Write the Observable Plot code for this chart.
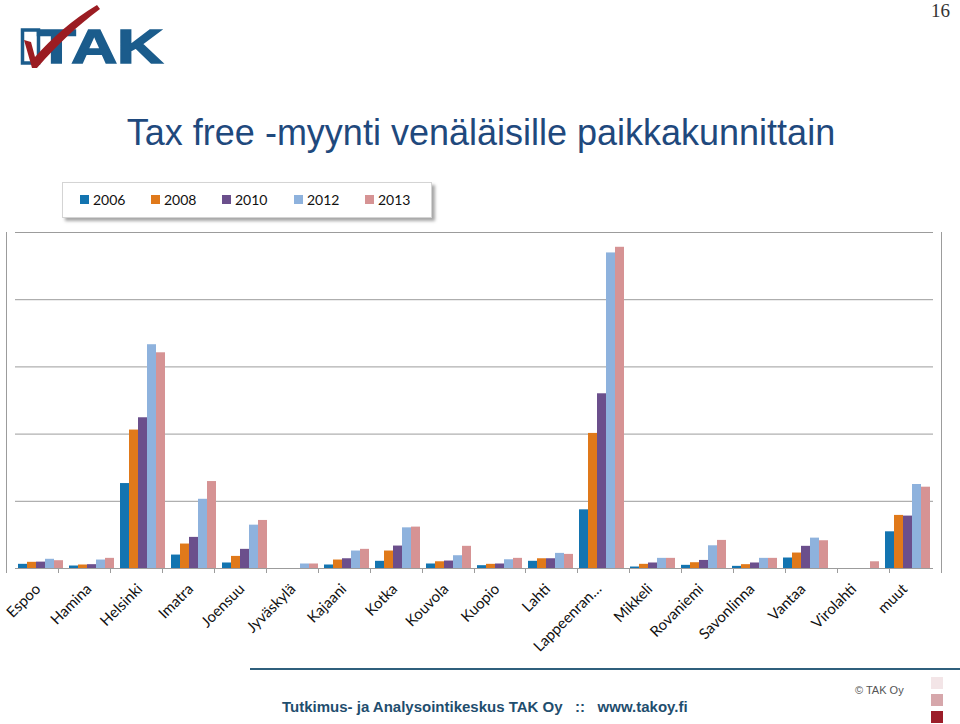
<!DOCTYPE html>
<html>
<head>
<meta charset="utf-8">
<script src="https://cdn.jsdelivr.net/npm/d3@7"></script>
<script src="https://cdn.jsdelivr.net/npm/@observablehq/plot@0.6"></script>
<style>
  html, body { margin: 0; padding: 0; background: #fff; }
  #page { position: relative; width: 960px; height: 724px; overflow: hidden; background: #fff; }
  #pagenum { position: absolute; right: 10px; top: 0px; font-family: "Liberation Serif", serif; font-size: 19px; color: #333; }
  #logo { position: absolute; left: 0; top: 0; }
  #title { position: absolute; left: 0; width: 962px; top: 112px; text-align: center; font-family: "Liberation Sans", Arial, sans-serif; font-size: 36px; color: #1F497D; white-space: nowrap; }
  #legend { position: absolute; left: 62px; top: 182px; width: 368px; height: 34px; background: #fff; border: 1px solid #d4d4d4; box-shadow: 3px 3px 3px rgba(0,0,0,0.35); font-family: Lato, "Open Sans", sans-serif; font-size: 14px; color: #111; }
  .li { position: absolute; top: 8px; display: flex; align-items: center; }
  .sw { width: 9px; height: 9px; margin-right: 4px; }
  #chart { position: absolute; left: 0; top: 220px; }
  #footline { position: absolute; left: 250px; top: 668px; width: 710px; height: 2px; background: #2F5F7C; }
  #foot { position: absolute; left: 282px; top: 698px; font-family: "Liberation Sans", Arial, sans-serif; font-weight: bold; font-size: 15px; color: #1F4E6E; white-space: pre; }
  #copy { position: absolute; left: 855px; top: 684px; font-family: "Liberation Sans", Arial, sans-serif; font-size: 11px; color: #555; }
  .sq { position: absolute; left: 931px; width: 12px; height: 12px; }
</style>
</head>
<body>
<div id="page">
  <div id="pagenum">16</div>
  <svg id="logo" width="180" height="75">
    <rect x="22.5" y="30" width="16" height="33" fill="none" stroke="#1B5C8C" stroke-width="3.5"></rect>
    <text x="37" y="63" font-family="Liberation Sans, Arial" font-weight="bold" font-size="48" fill="#1B5C8C" stroke="#1B5C8C" stroke-width="1.5" textLength="126" lengthAdjust="spacingAndGlyphs">TAK</text>
    <path d="M24,40 L31,42 L35,57 C52,38 72,20 97,5 L100,9 C77,26 57,45 37,68 L32,68 Z" fill="#9B1C22"></path>
  </svg>
  <div id="title">Tax free -myynti venäläisille paikkakunnittain</div>
  <div id="legend"></div>
  <div id="chart"></div>
  <div id="footline"></div>
  <div id="foot">Tutkimus- ja Analysointikeskus TAK Oy   ::   www.takoy.fi</div>
  <div id="copy">© TAK Oy</div>
  <div class="sq" style="top:677px;background:#F3E5E7"></div>
  <div class="sq" style="top:694px;background:#D6A7AB"></div>
  <div class="sq" style="top:711px;background:#9C1D29"></div>
</div>
<script>
const categories = ["Espoo","Hamina","Helsinki","Imatra","Joensuu","Jyväskylä","Kajaani","Kotka","Kouvola","Kuopio","Lahti","Lappeenran…","Mikkeli","Rovaniemi","Savonlinna","Vantaa","Virolahti","muut"];
const series = ["2006","2008","2010","2012","2013"];
const colors = ["#1374B0","#E0791A","#6B4F8C","#8EB2DD","#D69394"];
const v2006 = [0.062,0.037,1.264,0.200,0.082,null,0.052,0.107,0.067,0.042,0.107,0.873,0.022,0.047,0.032,0.156,null,0.546];
const v2008 = [0.092,0.052,2.060,0.364,0.180,null,0.126,0.260,0.100,0.062,0.145,2.010,0.062,0.086,0.057,0.230,null,0.790];
const v2010 = [0.095,0.057,2.243,0.463,0.285,null,0.145,0.334,0.111,0.067,0.145,2.600,0.082,0.120,0.082,0.330,null,0.780];
const v2012 = [0.137,0.126,3.330,1.030,0.645,0.067,0.260,0.605,0.190,0.130,0.225,4.696,0.151,0.338,0.151,0.452,null,1.250];
const v2013 = [0.116,0.151,3.210,1.294,0.715,0.067,0.285,0.616,0.330,0.151,0.210,4.780,0.151,0.418,0.151,0.413,0.100,1.210];
const gridValues = [0, 1, 2, 3, 4, 5];

const valueArrays = [v2006, v2008, v2010, v2012, v2013];
const rows = [];
categories.forEach((c, i) => {
  series.forEach((s, j) => {
    const v = valueArrays[j][i];
    if (v != null) rows.push({city: c, year: s, value: v});
  });
});

// legend
const legend = document.getElementById("legend");
const legendX = [17, 88, 159, 231, 302];
series.forEach((s, j) => {
  const d = document.createElement("div");
  d.className = "li";
  d.style.left = legendX[j] + "px";
  d.innerHTML = `<div class="sw" style="background:${colors[j]}"></div><span>${s}</span>`;
  legend.appendChild(d);
});

const chart = Plot.plot({
  width: 960,
  height: 440,
  marginLeft: 6,
  marginRight: 19,
  marginTop: 12,
  marginBottom: 92,
  style: {fontFamily: "Lato, 'Open Sans', sans-serif", fontSize: "15px", color: "#111", background: "transparent"},
  fx: {domain: categories, padding: 0, axis: null, label: null},
  x: {domain: series, axis: null, paddingInner: 0, paddingOuter: 0.24},
  y: {domain: [0, 5], axis: null},
  color: {domain: series, range: colors},
  marks: [
    Plot.ruleY(gridValues, {stroke: "#9c9c9c", strokeWidth: 1}),
    Plot.barY(rows, {fx: "city", x: "year", y: "value", fill: "year"}),
    Plot.text(categories, {fx: d => d, text: d => d, frameAnchor: "bottom", rotate: -45, textAnchor: "end", lineAnchor: "middle", dx: -3, dy: 18, fill: "#111", fontSize: 15})
  ]
});
document.getElementById("chart").appendChild(chart);

// boundary tick marks and side lines, from the scales
const fxs = chart.scale("fx");
const ys = chart.scale("y");
const svg = d3.select(chart);
const r0 = fxs.range[0], r1 = fxs.range[1];
const step = (r1 - r0) / fxs.domain.length;
const yBase = ys.range[0], yTop = ys.range[1];
const g = svg.append("g").attr("stroke", "#9c9c9c").attr("stroke-width", 1);
d3.range(fxs.domain.length + 1).forEach(i => {
  const x = Math.round(r0 + i * step) + 0.5;
  g.append("line").attr("x1", x).attr("x2", x).attr("y1", yBase).attr("y2", yBase + 5);
});
[r0, r1].forEach(x0 => {
  const x = Math.round(x0) + 0.5;
  g.append("line").attr("x1", x).attr("x2", x).attr("y1", yTop).attr("y2", yBase + 5);
});
</script>
</body>
</html>
